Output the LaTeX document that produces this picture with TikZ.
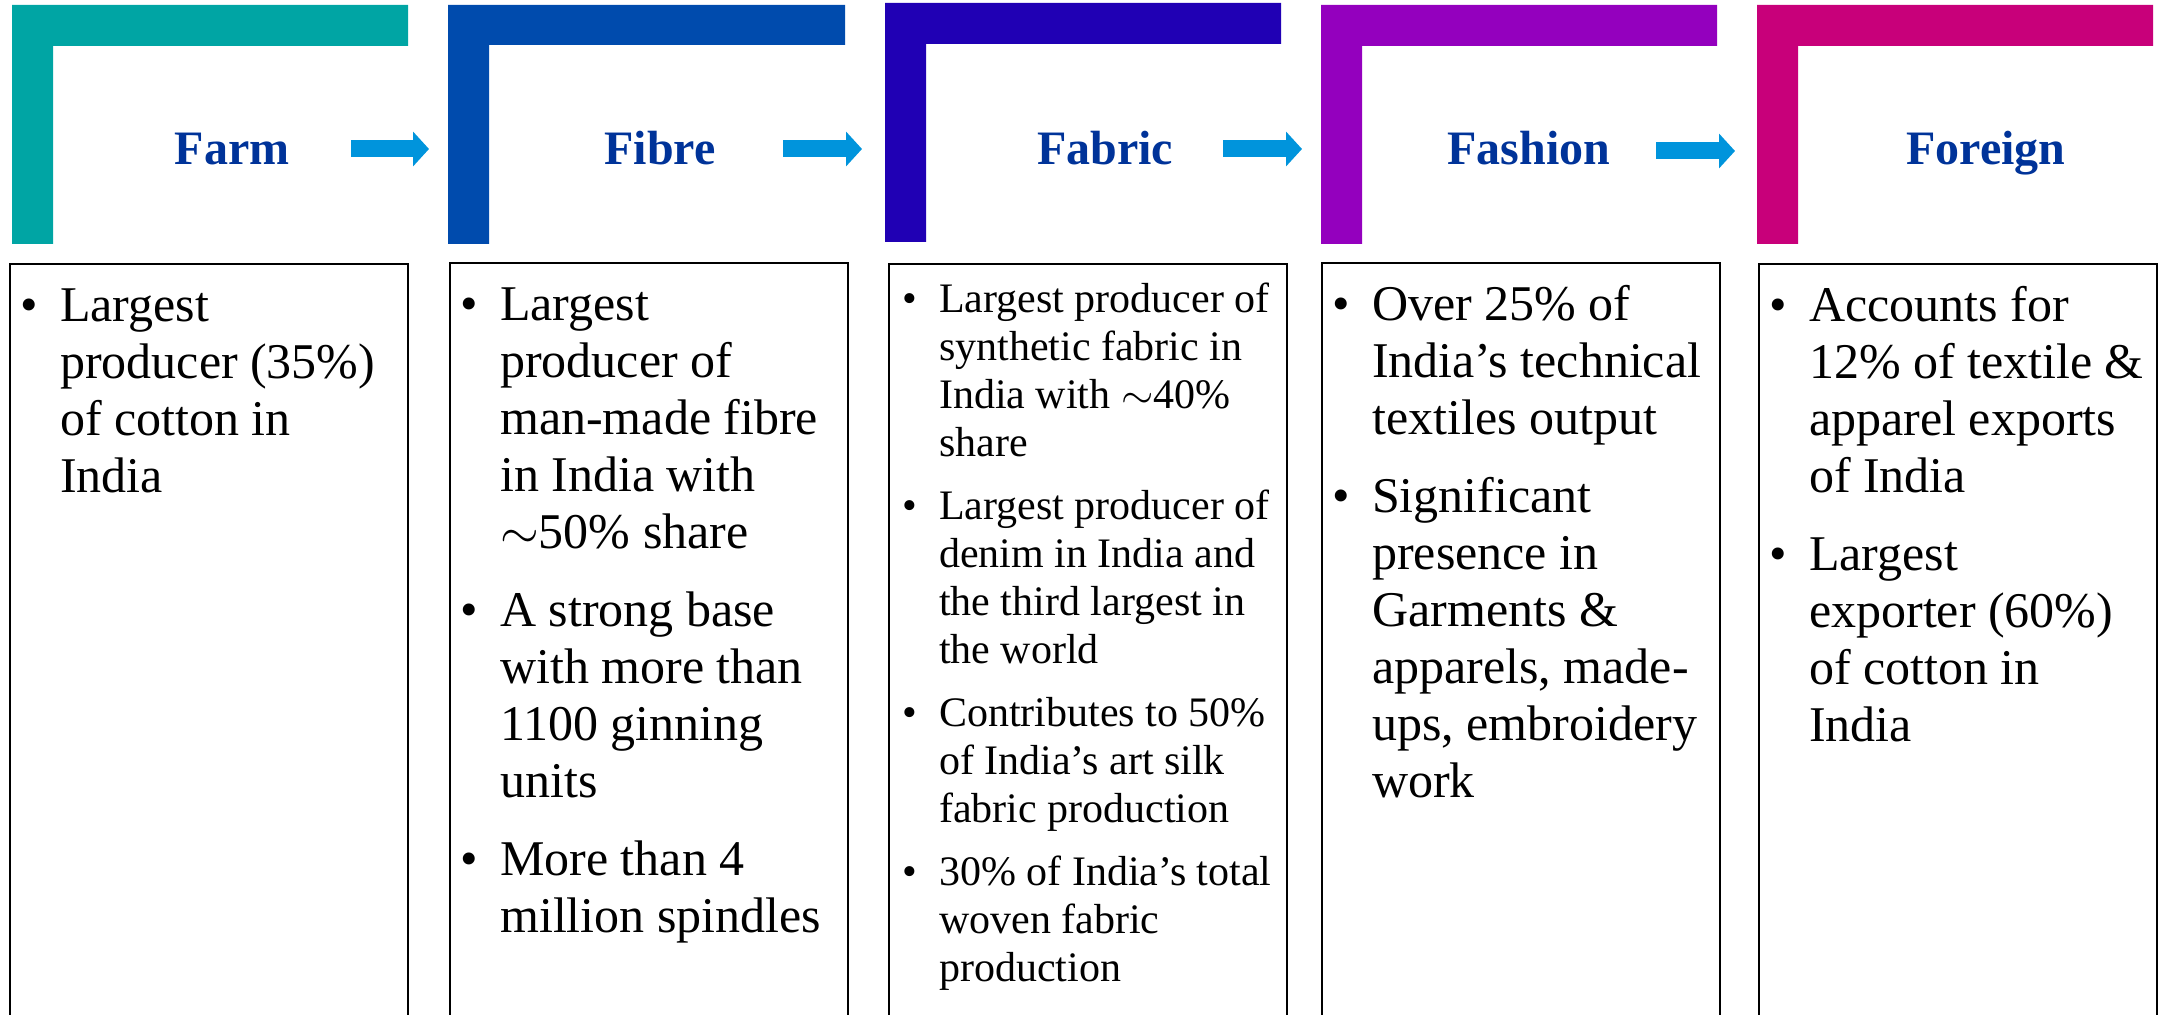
\documentclass[tikz,border=0pt]{standalone}
\usepackage{fontspec}
\setmainfont{Liberation Serif}
\usetikzlibrary{arrows.meta}

\definecolor{farmcol}{RGB}{0,165,164}
\definecolor{fibrecol}{RGB}{0,75,173}
\definecolor{fabriccol}{RGB}{32,0,180}
\definecolor{fashioncol}{RGB}{148,0,190}
\definecolor{foreigncol}{RGB}{200,0,122}
\definecolor{titlecol}{RGB}{0,51,153}
\definecolor{arrowcol}{RGB}{0,148,220}

\tikzstyle{heading} = [
	anchor=base,
	text=titlecol,
	font=\fontsize{24}{28}\selectfont\bfseries
]
\tikzstyle{infobox} = [
	draw=black,
	line width=1.2pt,
	anchor=north west,
	inner sep=0pt
]
\tikzstyle{flowarrow} = [
	draw=arrowcol,
	line width=8.5pt,
	-{Triangle[length=8pt, width=17pt]}
]

\newcommand{\bigtext}{\fontsize{25}{28.5}\selectfont\parskip=10.5pt}
\newcommand{\smalltext}{\fontsize{21}{24}\selectfont\parskip=7.5pt}
\newcommand{\pointlist}[3]{\parbox[t][385pt][t]{199pt}{\raggedright#1\vspace*{#2}#3}}
\newcommand{\bitem}[1]{\par\leftskip=25pt\noindent\strut\llap{\textbullet\hspace{11pt}}#1\par}

\begin{document}
\begin{tikzpicture}[x=0.5pt, y=-0.5pt]

		\useasboundingbox (0,0) rectangle (2165,1015);

		\fill [farmcol] (12,5) rectangle (408,46) (12,5) rectangle (53,244);
		\fill [fibrecol] (448,5) rectangle (845,45) (448,5) rectangle (489,244);
		\fill [fabriccol] (885,3) rectangle (1281,44) (885,3) rectangle (926,242);
		\fill [fashioncol] (1321,5) rectangle (1717,46) (1321,5) rectangle (1362,244);
		\fill [foreigncol] (1757,5) rectangle (2153,46) (1757,5) rectangle (1798,244);

		\node (farm) [heading] at (232,165) {Farm};
		\node (fibre) [heading] at (660,165) {Fibre};
		\node (fabric) [heading] at (1105,165) {Fabric};
		\node (fashion) [heading] at (1529,165) {Fashion};
		\node (foreign) [heading] at (1986,165) {Foreign};

		\coordinate (farmout) at (351,149);
		\coordinate (fibrein) at (429,149);
		\coordinate (fibreout) at (783,149);
		\coordinate (fabricin) at (862,149);
		\coordinate (fabricout) at (1223,149);
		\coordinate (fashionin) at (1302,149);
		\coordinate (fashionout) at (1656,151);
		\coordinate (foreignin) at (1735,151);

		\draw [flowarrow] (farmout) -- (fibrein);
		\draw [flowarrow] (fibreout) -- (fabricin);
		\draw [flowarrow] (fabricout) -- (fashionin);
		\draw [flowarrow] (fashionout) -- (foreignin);

		\node (farmbox) [infobox] at (9,263) {\pointlist{\bigtext}{-1.95pt}{%
			\bitem{Largest\\ producer (35\%)\\ of cotton in\\ India}}};
		\node (fibrebox) [infobox] at (449,262) {\pointlist{\bigtext}{-1.95pt}{%
			\bitem{Largest\\ producer of\\ man-made fibre\\ in India with\\ $\sim$50\% share}
			\bitem{A strong base\\ with more than\\ 1100 ginning\\ units}
			\bitem{More than 4\\ million spindles}}};
		\node (fabricbox) [infobox] at (888,263) {\pointlist{\smalltext}{-0.3pt}{%
			\bitem{Largest producer of\\ synthetic fabric in\\ India with $\sim$40\%\\ share}
			\bitem{Largest producer of\\ denim in India and\\ the third largest in\\ the world}
			\bitem{Contributes to 50\%\\ of India’s art silk\\ fabric production}
			\bitem{30\% of India’s total\\ woven fabric\\ production}}};
		\node (fashionbox) [infobox] at (1321,262) {\pointlist{\bigtext}{-1.95pt}{%
			\bitem{Over 25\% of\\ India’s technical\\ textiles output}
			\bitem{Significant\\ presence in\\ Garments \&\\ apparels, made-\\ ups, embroidery\\ work}}};
		\node (foreignbox) [infobox] at (1758,263) {\pointlist{\bigtext}{-1.95pt}{%
			\bitem{Accounts for\\ 12\% of textile \&\\ apparel exports\\ of India}
			\bitem{Largest\\ exporter (60\%)\\ of cotton in\\ India}}};

	\end{tikzpicture}
\end{document}
